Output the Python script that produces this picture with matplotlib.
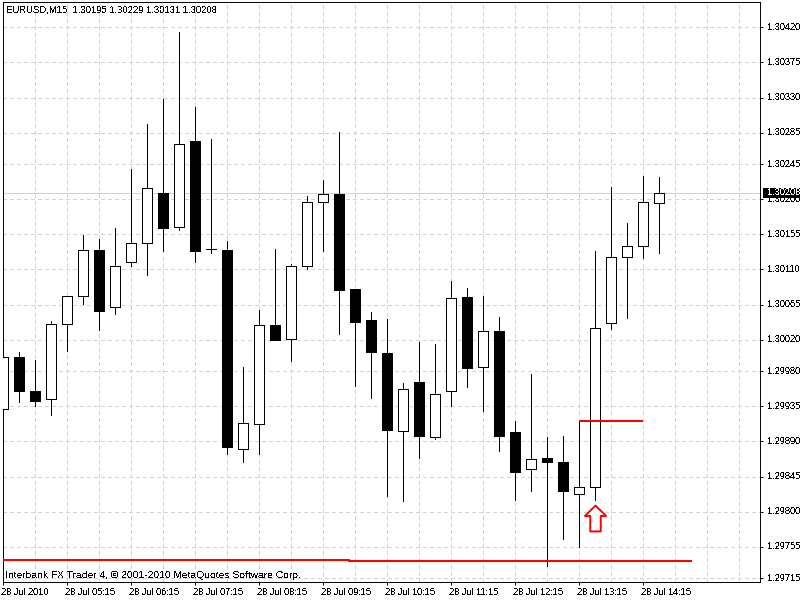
import matplotlib
matplotlib.use("Agg")
import matplotlib.pyplot as plt
from matplotlib.path import Path
from matplotlib.patches import Rectangle
from matplotlib.transforms import ScaledTranslation

plt.rcParams['font.family'] = ['Liberation Sans', 'DejaVu Sans']
plt.rcParams['text.antialiased'] = False
plt.rcParams['text.hinting'] = 'native'

# Bougies M15
opens = [1.29931, 1.29998, 1.29955, 1.29944, 1.30040, 1.30076, 1.30135, 1.30062, 1.30119, 1.30144, 1.30208,
         1.30164, 1.30275, 1.30136, 1.30135, 1.29880, 1.29912, 1.30039, 1.30021, 1.30115, 1.30196, 1.30207,
         1.30085, 1.30045, 1.30003, 1.29903, 1.29966, 1.29895, 1.29954, 1.30075, 1.29985, 1.30031, 1.29902,
         1.29854, 1.29869, 1.29864, 1.29823, 1.29831, 1.30042, 1.30126, 1.30140, 1.30195]
highs = [1.30012, 1.30004, 1.29994, 1.30044, 1.30076, 1.30154, 1.30149, 1.30163, 1.30239, 1.30296, 1.30328,
         1.30414, 1.30318, 1.30277, 1.30147, 1.29985, 1.30058, 1.30136, 1.30117, 1.30204, 1.30225, 1.30286,
         1.30085, 1.30056, 1.30047, 1.29965, 1.30017, 1.30015, 1.30095, 1.30086, 1.30076, 1.30049, 1.29916,
         1.29976, 1.29896, 1.29897, 1.29916, 1.30134, 1.30216, 1.30169, 1.30230, 1.30229]
lows = [1.29922, 1.29941, 1.29935, 1.29924, 1.30006, 1.30066, 1.30033, 1.30053, 1.30114, 1.30103, 1.30134,
        1.30161, 1.30120, 1.30131, 1.29874, 1.29863, 1.29874, 1.30020, 1.29993, 1.30111, 1.30134, 1.30028,
        1.29961, 1.29945, 1.29820, 1.29814, 1.29869, 1.29893, 1.29935, 1.29959, 1.29929, 1.29878, 1.29815,
        1.29826, 1.29730, 1.29765, 1.29755, 1.29815, 1.30034, 1.30048, 1.30125, 1.30131]
closes = [1.29998, 1.29954, 1.29942, 1.30040, 1.30076, 1.30135, 1.30057, 1.30114, 1.30144, 1.30214, 1.30163,
          1.30270, 1.30134, 1.30136, 1.29883, 1.29913, 1.30039, 1.30020, 1.30114, 1.30196, 1.30206, 1.30084,
          1.30043, 1.30005, 1.29904, 1.29957, 1.29897, 1.29950, 1.30074, 1.29984, 1.30031, 1.29897, 1.29851,
          1.29867, 1.29863, 1.29826, 1.29831, 1.30035, 1.30126, 1.30140, 1.30196, 1.30208]

price_ticks = [1.30420, 1.30375, 1.30330, 1.30285, 1.30245, 1.30200, 1.30155, 1.30110, 1.30065, 1.30020,
               1.29980, 1.29935, 1.29890, 1.29845, 1.29800, 1.29755, 1.29715]
time_labels = ["28 Jul 2010", "28 Jul 05:15", "28 Jul 06:15", "28 Jul 07:15", "28 Jul 08:15", "28 Jul 09:15",
               "28 Jul 10:15", "28 Jul 11:15", "28 Jul 12:15", "28 Jul 13:15", "28 Jul 14:15"]
time_pos = [0, 4, 8, 12, 16, 20, 24, 28, 32, 36, 40]
grid_pos = list(range(2, 47, 2))

level_x = [0, 21.6, 21.6, 43]
level_y = [1.29738, 1.29738, 1.29737, 1.29737]
upper_x = [36, 40]
upper_y = [1.29916, 1.29916]
arrow_x = 37
arrow_y = 1.29792

W, H = 800, 600
FS = 6.6
GRID = "#d3d3d3"
fig = plt.figure(figsize=(8, 6), dpi=100, facecolor="white")
ax = fig.add_axes([2.5 / W, (H - 582) / H, (760 - 2.5) / W, 580 / H])
ax.set_xlim(-0.6 / 16, 756.9 / 16)
ax.set_ylim(1.30420 - 554.7 * 1.28e-5, 1.30420 + 25.3 * 1.28e-5)

# Grille
for y in price_ticks:
    ax.axhline(y, color=GRID, lw=0.7, dashes=(3.1, 3.1), zorder=1, antialiased=False)
for x in grid_pos:
    ax.axvline(x, color=GRID, lw=0.7, dashes=(3.1, 3.1), zorder=1, antialiased=False)
ax.axhline(closes[-1], color=GRID, lw=0.7, zorder=1.5, antialiased=False)

# Bougies
for i in range(len(opens)):
    ax.vlines(i, lows[i], highs[i], color="black", lw=0.7, zorder=2, antialiased=False)
    bottom = min(opens[i], closes[i])
    height = abs(closes[i] - opens[i])
    face = "white" if closes[i] >= opens[i] else "black"
    if height < 2e-5:
        ax.hlines(opens[i], i - 0.33, i + 0.33, color="black", lw=0.7, zorder=3, antialiased=False)
    else:
        ax.bar(i, height, bottom=bottom, width=0.625, facecolor=face, edgecolor="black",
               linewidth=0.7, zorder=3, antialiased=False)

# Niveaux et flèche
ax.plot(level_x, level_y, color="red", lw=1.4, zorder=4, antialiased=False, solid_joinstyle="miter")
ax.plot(upper_x, upper_y, color="red", lw=1.4, zorder=4, antialiased=False, solid_capstyle="butt")
arrow = Path([(0, 12.8), (10.5, 2.5), (5.2, 2.5), (5.2, -12.8), (-5.2, -12.8), (-5.2, 2.5), (-10.5, 2.5), (0, 12.8)],
             closed=True)
ax.plot([arrow_x], [arrow_y], marker=arrow, markersize=18.6, markerfacecolor="white", markeredgecolor="red",
        markeredgewidth=1.4, linestyle="none", zorder=5)

# Axes
for s in ax.spines.values():
    s.set_linewidth(0.7)
    s.set_color("black")
ax.yaxis.tick_right()
ax.set_yticks(price_ticks)
ax.set_yticklabels([f"{p:.5f}" for p in price_ticks], fontsize=FS)
ax.tick_params(axis="y", length=2.5, width=0.7, pad=2.5)
ax.set_xticks(time_pos)
ax.set_xticklabels(time_labels, fontsize=FS, ha="left")
ax.tick_params(axis="x", length=2.5, width=0.7, pad=2)
shift_x = ScaledTranslation(-1.5 / 72, 0, fig.dpi_scale_trans)
for lab in ax.get_xticklabels():
    lab.set_transform(lab.get_transform() + shift_x)
shift_y = ScaledTranslation(0, 0.72 / 72, fig.dpi_scale_trans)
for lab in ax.get_yticklabels():
    lab.set_transform(lab.get_transform() + shift_y)

# Étiquette du dernier prix
ax.add_patch(Rectangle((1.0037, closes[-1] - 6.2e-5), 0.06, 12.4e-5, transform=ax.get_yaxis_transform(),
                       facecolor="black", edgecolor="none", clip_on=False, zorder=6))
ax.text(1 + 7 / 757.5, closes[-1], f"{closes[-1]:.5f}", color="white", fontsize=FS, va="center", ha="left",
        transform=ax.get_yaxis_transform(), zorder=7, clip_on=False)

fig.text(6 / W, 1 - 10.5 / H, "EURUSD,M15  1.30195 1.30229 1.30131 1.30208", fontsize=6.8, va="center", color="black")
fig.text(5 / W, 1 - 575 / H, "Interbank FX Trader 4, \u00a9 2001-2010 MetaQuotes Software Corp.", fontsize=7.4,
         va="center", color="black")

fig.savefig("out.png", dpi=100)
